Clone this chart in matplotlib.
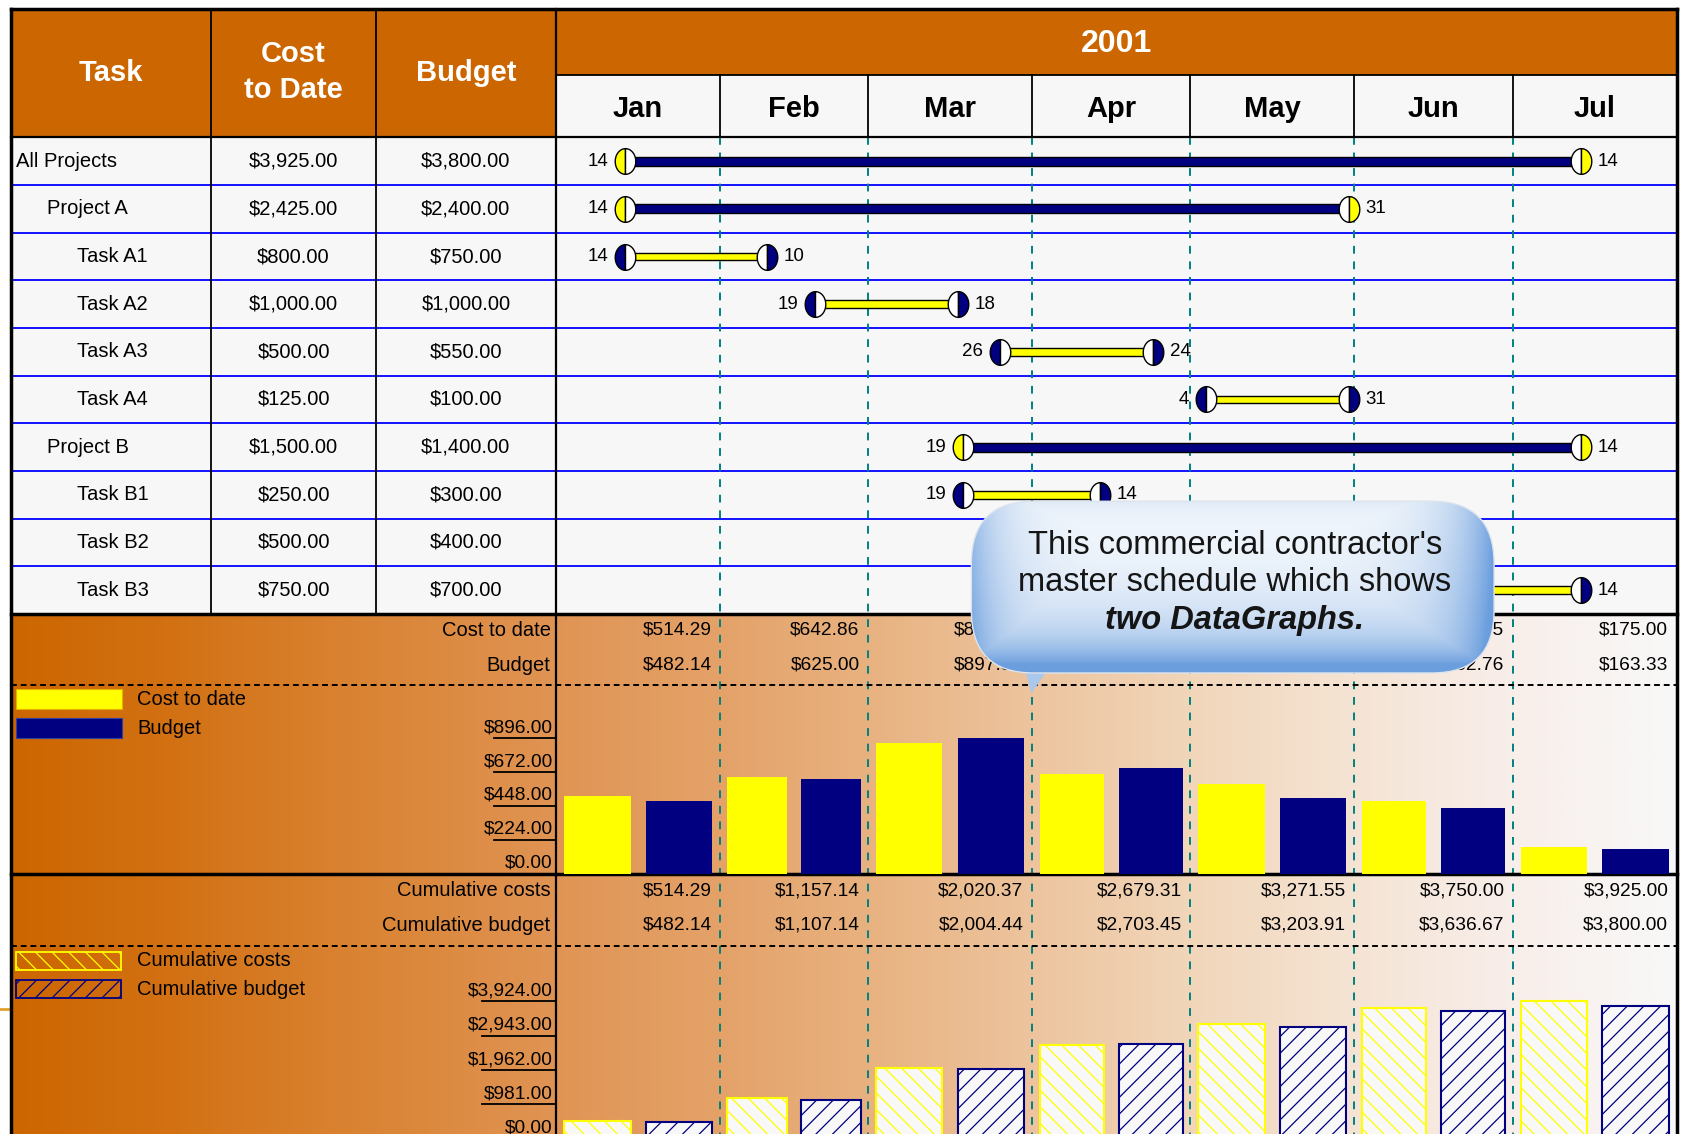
import numpy as np
import matplotlib
matplotlib.use("Agg")
import matplotlib.pyplot as plt
from matplotlib.path import Path
from matplotlib.patches import Rectangle, FancyBboxPatch, Polygon
import matplotlib.transforms as mtransforms
from datetime import date

plt.rcParams['font.family'] = ['Liberation Sans', 'DejaVu Sans']
plt.rcParams['hatch.linewidth'] = 0.9

# ---------------- data ----------------
year_label = "2001"
months = ["Jan", "Feb", "Mar", "Apr", "May", "Jun", "Jul"]
task_names = ["All Projects", "Project A", "Task A1", "Task A2", "Task A3",
              "Task A4", "Project B", "Task B1", "Task B2", "Task B3"]
task_level = [0, 1, 2, 2, 2, 2, 1, 2, 2, 2]
task_is_summary = [True, True, False, False, False, False, True, False, False, False]
task_cost = [3925.00, 2425.00, 800.00, 1000.00, 500.00, 125.00, 1500.00, 250.00, 500.00, 750.00]
task_budget = [3800.00, 2400.00, 750.00, 1000.00, 550.00, 100.00, 1400.00, 300.00, 400.00, 700.00]
task_start = ["2001-01-14", "2001-01-14", "2001-01-14", "2001-02-19", "2001-03-26",
              "2001-05-04", "2001-03-19", "2001-03-19", "2001-04-16", "2001-05-28"]
task_end = ["2001-07-14", "2001-05-31", "2001-02-10", "2001-03-18", "2001-04-24",
            "2001-05-31", "2001-07-14", "2001-04-14", "2001-05-25", "2001-07-14"]

monthly_cost = [514.29, 642.86, 863.23, 658.94, 592.24, 478.45, 175.00]
monthly_budget = [482.14, 625.00, 897.30, 699.01, 500.46, 432.76, 163.33]
cumulative_cost = [514.29, 1157.14, 2020.37, 2679.31, 3271.55, 3750.00, 3925.00]
cumulative_budget = [482.14, 1107.14, 2004.44, 2703.45, 3203.91, 3636.67, 3800.00]
monthly_ticks = [0, 224, 448, 672, 896]
cumulative_ticks = [0, 981, 1962, 2943, 3924]

header_task = "Task"
header_cost = "Cost\nto Date"
header_budget = "Budget"
monthly_labels = ["Cost to date", "Budget"]
cumulative_labels = ["Cumulative costs", "Cumulative budget"]
callout_lines = ["This commercial contractor's", "master schedule which shows", "two DataGraphs."]

# ---------------- colours ----------------
ORANGE = '#CC6600'
NAVY = '#000080'
YELLOW = '#FFFF00'
TEAL = '#008080'
LIGHT = '#F7F7F7'

# ---------------- layout (reference units) ----------------
W, H, DPI = 1683, 1134, 100
S = W / 1568.0
RW, RH = W / S, H / S

XL, XR = 10, 1562
XC1, XC2, XG = 197, 350, 518
YT, YYEAR, YHEAD, YG_END = 8, 70, 128, 572
Y_S2_ROW1, Y_S2_ROW2, Y_S2_DASH, YS2_END = 587, 620, 638, 814
Y_S2_TOPTICK = 688
Y_S3_ROW1, Y_S3_ROW2, Y_S3_DASH, Y_S3_BASE = 830, 862, 881, 1061
Y_S3_TOPTICK = 933
BX0, BY0, BX1, BY1 = 905, 467, 1392, 627   # callout bubble

SMALL = 14.5
VALS = 13.8

JAN1 = date(2001, 1, 1)
mbounds = [(date(2001, m, 1) - JAN1).days for m in range(1, 9)]
mstart = mbounds[:-1]
mlen = [mbounds[k + 1] - mbounds[k] for k in range(len(months))]
mend = mbounds[1:]


def dnum(s):
    return (date.fromisoformat(s) - JAN1).days


def rect(x0, y0, x1, y1):
    return [x0 / RW, 1 - y1 / RH, (x1 - x0) / RW, (y1 - y0) / RH]


def under_callout(day, row, dx):
    # reference-unit position of a date label; True when the callout bubble hides it
    x = XG + (day - mbounds[0]) / (mbounds[-1] - mbounds[0]) * (XR - XG) + dx
    y = YHEAD + (row + 0.5) * (YG_END - YHEAD) / len(task_names)
    return BX0 < x < BX1 and BY0 < y < BY1


fig = plt.figure(figsize=(W / DPI, H / DPI), dpi=DPI, facecolor='white')

ax_bg = fig.add_axes([0, 0, 1, 1], zorder=0)
ax_g = fig.add_axes(rect(XG, YHEAD, XR, YG_END), zorder=2)
ax_m = fig.add_axes(rect(XG, Y_S2_DASH, XR, YS2_END), zorder=2)
ax_c = fig.add_axes(rect(XG, Y_S3_DASH, XR, Y_S3_BASE), zorder=2)
ax_top = fig.add_axes([0, 0, 1, 1], zorder=5)

for a in (ax_bg, ax_g, ax_m, ax_c, ax_top):
    a.set_axis_off()
    a.patch.set_alpha(0)

# ---------------- background ----------------
ax_bg.add_patch(Rectangle((XL, YT), XR - XL, YG_END - YT, facecolor=LIGHT, edgecolor='none', zorder=0))
ax_bg.add_patch(Rectangle((XL, YT), XG - XL, YHEAD - YT, facecolor=ORANGE, edgecolor='none', zorder=1))
ax_bg.add_patch(Rectangle((XG, YT), XR - XG, YYEAR - YT, facecolor=ORANGE, edgecolor='none', zorder=1))

grad_x = [10, 150, 300, 518, 670, 808, 962, 1110, 1262, 1410, 1562]
grad_rgb = np.array([(204, 102, 0), (210, 112, 18), (216, 128, 45), (224, 148, 84),
                     (228, 162, 105), (232, 178, 128), (237, 196, 158), (241, 214, 186),
                     (245, 228, 212), (248, 238, 234), (248, 248, 248)]) / 255.0
xs = np.linspace(XL, XR, 900)
grad = np.stack([np.interp(xs, grad_x, grad_rgb[:, c]) for c in range(3)], axis=-1)[None, :, :]
ax_bg.imshow(grad, extent=(XL, XR, RH + 10, YG_END), aspect='auto', interpolation='bilinear', zorder=0.5)
ax_bg.set_xlim(0, RW)
ax_bg.set_ylim(RH, 0)

# ---------------- axes scales ----------------
ax_g.set_xlim(mbounds[0], mbounds[-1])
ax_g.set_ylim(len(task_names), 0)
ax_m.set_xlim(mbounds[0], mbounds[-1])
ax_c.set_xlim(mbounds[0], mbounds[-1])
m_top = monthly_ticks[-1] * (YS2_END - Y_S2_DASH) / (YS2_END - Y_S2_TOPTICK)
c_top = cumulative_ticks[-1] * (Y_S3_BASE - Y_S3_DASH) / (Y_S3_BASE - Y_S3_TOPTICK)
ax_m.set_ylim(0, m_top)
ax_c.set_ylim(0, c_top)

tx_g = mtransforms.blended_transform_factory(ax_g.transData, ax_bg.transData)
ty_g = mtransforms.blended_transform_factory(ax_bg.transData, ax_g.transData)
ty_m = mtransforms.blended_transform_factory(ax_bg.transData, ax_m.transData)
ty_c = mtransforms.blended_transform_factory(ax_bg.transData, ax_c.transData)

# grid lines
for i in range(1, len(task_names)):
    ax_bg.plot([XL, XR], [i, i], transform=ty_g, color='#0000FF', lw=1.3, zorder=2)
for d in mbounds[1:-1]:
    ax_bg.plot([d, d], [YHEAD, RH + 10], transform=tx_g, color=TEAL, lw=1.4,
               ls=(0, (4, 4)), zorder=3)
    ax_bg.plot([d, d], [YYEAR, YHEAD], transform=tx_g, color='black', lw=1.3, zorder=3)

for x in (XC1, XC2):
    ax_bg.plot([x, x], [YT, YG_END], color='black', lw=1.3, zorder=3)
ax_bg.plot([XG, XG], [YT, RH + 10], color='black', lw=1.6, zorder=3)
ax_bg.plot([XG, XR], [YYEAR, YYEAR], color='black', lw=1.3, zorder=3)
ax_bg.plot([XL, XR], [YHEAD, YHEAD], color='black', lw=1.6, zorder=3)
ax_bg.plot([XL, XR], [YG_END, YG_END], color='black', lw=2.5, zorder=4)
ax_bg.plot([XL, XR], [YS2_END, YS2_END], color='black', lw=2.5, zorder=4)
ax_bg.plot([XL, XR], [Y_S2_DASH, Y_S2_DASH], color='black', lw=1.4, ls=(0, (3, 2)), zorder=4)
ax_bg.plot([XL, XR], [Y_S3_DASH, Y_S3_DASH], color='black', lw=1.4, ls=(0, (3, 2)), zorder=4)
# small mark outside the frame
ax_bg.plot([0, 8], [940, 940], color='#E0A030', lw=2, zorder=4)

# header text
hdr = dict(color='white', fontweight='bold', fontsize=21, ha='center', va='center', zorder=5)
ax_bg.text((XL + XC1) / 2, 68, header_task, **hdr)
ax_bg.text((XC1 + XC2) / 2, 67, header_cost, linespacing=1.35, **hdr)
ax_bg.text((XC2 + XG) / 2, 68, header_budget, **hdr)
ax_bg.text((mbounds[0] + mbounds[-1]) / 2, 41, year_label, transform=tx_g,
           color='white', fontweight='bold', fontsize=23, ha='center', va='center', zorder=5)
for k, m in enumerate(months):
    ax_bg.text(mstart[k] + mlen[k] / 2, 102, m, transform=tx_g,
               fontweight='bold', fontsize=21, ha='center', va='center', color='black', zorder=5)

# table rows
for i, name in enumerate(task_names):
    y = i + 0.5
    ax_bg.text(XL + 5 + 28.5 * task_level[i], y, name, transform=ty_g, ha='left', va='center',
               fontsize=SMALL, zorder=5)
    ax_bg.text((XC1 + XC2) / 2, y, f"${task_cost[i]:,.2f}", transform=ty_g, ha='center',
               va='center', fontsize=SMALL, zorder=5)
    ax_bg.text((XC2 + XG) / 2, y, f"${task_budget[i]:,.2f}", transform=ty_g, ha='center',
               va='center', fontsize=SMALL, zorder=5)

# half-ellipse markers
th_l = np.linspace(np.pi / 2, 3 * np.pi / 2, 40)
th_r = np.linspace(-np.pi / 2, np.pi / 2, 40)
vl = np.column_stack([0.4 * np.cos(th_l), 0.5 * np.sin(th_l)])
vr = np.column_stack([0.4 * np.cos(th_r), 0.5 * np.sin(th_r)])
LEFT_HALF = Path(np.vstack([vl, vl[:1]]), closed=True)
RIGHT_HALF = Path(np.vstack([vr, vr[:1]]), closed=True)
MS = 18.5


def cap(ax, x, y, left_col, right_col):
    ax.plot([x], [y], marker=LEFT_HALF, ms=MS, mfc=left_col, mec='black', mew=1.0, ls='none', zorder=5)
    ax.plot([x], [y], marker=RIGHT_HALF, ms=MS, mfc=right_col, mec='black', mew=1.0, ls='none', zorder=5)


for i in range(len(task_names)):
    s, e = dnum(task_start[i]), dnum(task_end[i])
    y = i + 0.5
    if task_is_summary[i]:
        ax_g.barh(y, e - s, left=s, height=0.19, color=NAVY, edgecolor='black', lw=1.0, zorder=4)
        cap(ax_g, s, y, YELLOW, 'white')
        cap(ax_g, e, y, 'white', YELLOW)
    else:
        ax_g.barh(y, e - s, left=s, height=0.16, color=YELLOW, edgecolor='black', lw=1.0, zorder=4)
        cap(ax_g, s, y, NAVY, 'white')
        cap(ax_g, e, y, 'white', NAVY)
    if not under_callout(s, i, -22):
        ax_g.annotate(str(date.fromisoformat(task_start[i]).day), (s, y), xytext=(-12, 0),
                      textcoords='offset points', ha='right', va='center', fontsize=13.5, zorder=6)
    if not under_callout(e, i, 22):
        ax_g.annotate(str(date.fromisoformat(task_end[i]).day), (e, y), xytext=(12, 0),
                      textcoords='offset points', ha='left', va='center', fontsize=13.5, zorder=6)

# ---------------- monthly datagraph ----------------
for r, (lab, vals) in enumerate(zip(monthly_labels, [monthly_cost, monthly_budget])):
    yrow = [Y_S2_ROW1, Y_S2_ROW2][r]
    ax_bg.text(XG - 5, yrow, lab, ha='right', va='center', fontsize=SMALL, zorder=5)
    for k in range(len(months)):
        ax_bg.annotate(f"${vals[k]:,.2f}", (mend[k], yrow), xycoords=tx_g, xytext=(-6, 0),
                       textcoords='offset points', ha='right', va='center', fontsize=VALS, zorder=5)

mx_cost = [mstart[k] + 0.05 * mlen[k] for k in range(len(months))]
mx_bud = [mstart[k] + 0.548 * mlen[k] for k in range(len(months))]
mw = [0.405 * mlen[k] for k in range(len(months))]
ax_m.bar(mx_cost, monthly_cost, width=mw, align='edge', color=YELLOW, edgecolor='none', zorder=3)
ax_m.bar(mx_bud, monthly_budget, width=mw, align='edge', color=NAVY, edgecolor='none', zorder=3)
for v in monthly_ticks:
    ax_bg.plot([460, XG], [v, v], transform=ty_m, color='black', lw=1.3, zorder=4)
    ax_bg.annotate(f"${v:,.2f}", (XG - 3, v), xycoords=ty_m, xytext=(0, 1.5),
                   textcoords='offset points', ha='right', va='bottom', fontsize=VALS, zorder=5)

ax_bg.add_patch(Rectangle((15, 642), 99, 19, facecolor=YELLOW, edgecolor='#E8B000', lw=0.8, zorder=5))
ax_bg.add_patch(Rectangle((15, 669), 99, 19, facecolor=NAVY, edgecolor='#3040A0', lw=0.8, zorder=5))
ax_bg.text(128, 652, monthly_labels[0], ha='left', va='center', fontsize=SMALL, zorder=5)
ax_bg.text(128, 679, monthly_labels[1], ha='left', va='center', fontsize=SMALL, zorder=5)

# ---------------- cumulative datagraph ----------------
for r, (lab, vals) in enumerate(zip(cumulative_labels, [cumulative_cost, cumulative_budget])):
    yrow = [Y_S3_ROW1, Y_S3_ROW2][r]
    ax_bg.text(XG - 5, yrow, lab, ha='right', va='center', fontsize=SMALL, zorder=5)
    for k in range(len(months)):
        ax_bg.annotate(f"${vals[k]:,.2f}", (mend[k], yrow), xycoords=tx_g, xytext=(-6, 0),
                       textcoords='offset points', ha='right', va='center', fontsize=VALS, zorder=5)

ax_c.bar(mx_cost, cumulative_cost, width=mw, align='edge', facecolor='#F8F8F8',
         edgecolor=YELLOW, lw=1.5, hatch='\\\\', zorder=3)
ax_c.bar(mx_bud, cumulative_budget, width=mw, align='edge', facecolor='#F8F8F8',
         edgecolor=NAVY, lw=1.5, hatch='//', zorder=3)
for v in cumulative_ticks:
    ax_bg.plot([449, XG], [v, v], transform=ty_c, color='black', lw=1.3, zorder=4)
    ax_bg.annotate(f"${v:,.2f}", (XG - 3, v), xycoords=ty_c, xytext=(0, 1.5),
                   textcoords='offset points', ha='right', va='bottom', fontsize=VALS, zorder=5)

ax_bg.add_patch(Rectangle((15, 887), 98, 17, facecolor='none', edgecolor=YELLOW, lw=1.3,
                          hatch='\\\\', zorder=5))
ax_bg.add_patch(Rectangle((15, 913), 98, 17, facecolor='none', edgecolor=NAVY, lw=1.3,
                          hatch='//', zorder=5))
ax_bg.text(128, 895, cumulative_labels[0], ha='left', va='center', fontsize=SMALL, zorder=5)
ax_bg.text(128, 922, cumulative_labels[1], ha='left', va='center', fontsize=SMALL, zorder=5)

# ---------------- frame + callout (top layer) ----------------
ax_top.set_xlim(0, RW)
ax_top.set_ylim(RH, 0)
ax_top.plot([XL, XR], [YT, YT], color='black', lw=2.5)
ax_top.plot([XL, XL], [YT, RH + 10], color='black', lw=2.5)
ax_top.plot([XR, XR], [YT, RH + 10], color='black', lw=2.5)

ax_top.add_patch(Polygon([(952, 612), (984, 612), (961, 646)], closed=True,
                         facecolor='#A9C8EC', edgecolor='none', zorder=2))
bubble = FancyBboxPatch((BX0, BY0), BX1 - BX0, BY1 - BY0,
                        boxstyle='round,pad=0,rounding_size=58',
                        facecolor='#D6E6F6', edgecolor='none', zorder=3)
ax_top.add_patch(bubble)
hh, ww = 160, 490
u = np.linspace(0, 1, ww)[None, :]
v = np.linspace(0, 1, hh)[:, None]
dx_l = u * (BX1 - BX0)
dx_r = (1 - u) * (BX1 - BX0)
dy_b = (1 - v) * (BY1 - BY0)
dy_t = v * (BY1 - BY0)
zero = 0 * u * v
t = np.maximum.reduce([0.7 * np.exp(-dx_l / 32.0) + zero, 0.95 * np.exp(-dx_r / 40.0) + zero,
                       1.0 * np.exp(-dy_b / 26.0) + zero, 0.15 * np.exp(-dy_t / 15.0) + zero])
t = np.clip(t + 0.28 * v ** 1.5, 0, 1)
c_in = np.array([0.96, 0.975, 0.99])
c_out = np.array([0.42, 0.62, 0.87])
img = c_in[None, None, :] * (1 - t[..., None]) + c_out[None, None, :] * t[..., None]
im = ax_top.imshow(img, extent=(BX0, BX1, BY1, BY0), aspect='auto', interpolation='bilinear', zorder=4)
im.set_clip_path(bubble)
ax_top.add_patch(FancyBboxPatch((BX0, BY0), BX1 - BX0, BY1 - BY0,
                                boxstyle='round,pad=0,rounding_size=58',
                                facecolor='none', edgecolor='#DCE4EE', lw=1.0, zorder=5))
cx = (BX0 + BX1) / 2 + 2
ax_top.text(cx, 508, callout_lines[0], ha='center', va='center', fontsize=23.5, color='#151515', zorder=6)
ax_top.text(cx, 543, callout_lines[1], ha='center', va='center', fontsize=23.5, color='#151515', zorder=6)
ax_top.text(cx, 578, callout_lines[2], ha='center', va='center', fontsize=23.5, color='#151515',
            fontweight='bold', fontstyle='italic', zorder=6)
ax_top.set_xlim(0, RW)
ax_top.set_ylim(RH, 0)

fig.savefig('out.png', dpi=DPI)
